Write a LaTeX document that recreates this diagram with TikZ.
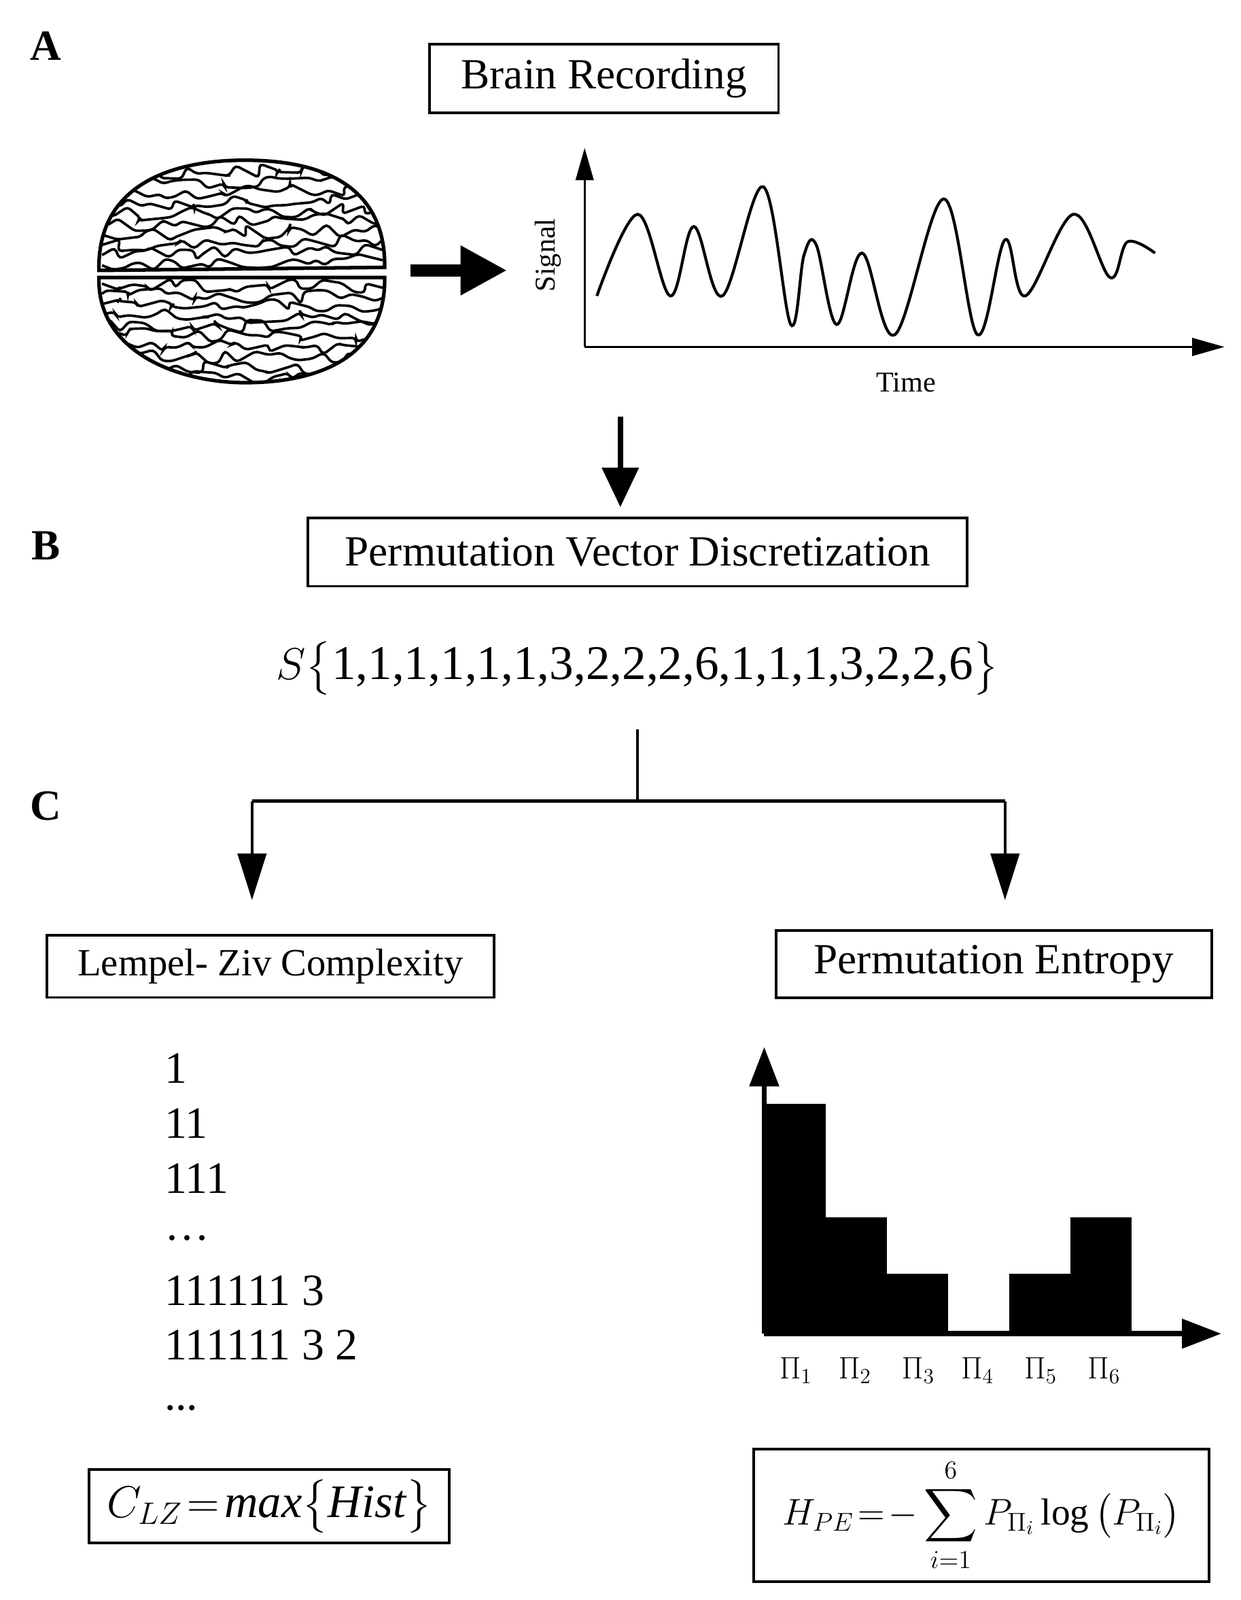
\documentclass[tikz,border=0pt]{standalone}
\usepackage{fontspec}
\setmainfont{Liberation Serif}
\usepackage{amsmath}
\usetikzlibrary{arrows.meta,decorations.pathmorphing}
\begin{document}
\begin{tikzpicture}[x=0.02cm,y=-0.02cm,
  box/.style={draw,line width=1.5pt,inner sep=0pt},
  lab/.style={font=\bfseries\fontsize{24}{28}\selectfont},
  ax/.style={line width=1pt,-{Triangle[length=18pt,width=10pt]}},
  wig/.style={line width=1.4pt,rounded corners=2pt,decorate,decoration={random steps,segment length=6pt,amplitude=4pt}}]
\useasboundingbox (0,0) rectangle (1216,1568);
\node[lab] (la) at (45,45) {A};
\node[lab] (lb) at (45,535) {B};
\node[lab] (lc) at (45,790) {C};
% Brain recording
\node[box,minimum width=342*0.02cm,minimum height=67*0.02cm,font=\fontsize{24}{28}\selectfont] (br) at (592,77) {Brain Recording};
% brain
\draw[line width=2pt] (97,265) .. controls (95,180) and (170,157) .. (240,157) .. controls (320,157) and (378,185) .. (377,262) -- cycle;
\draw[line width=2pt] (97,272) .. controls (95,345) and (175,375) .. (240,375) .. controls (320,375) and (378,345) .. (377,272) -- cycle;
\begin{scope}
\clip (97,265) .. controls (95,180) and (170,157) .. (240,157) .. controls (320,157) and (378,185) .. (377,262) -- cycle;
\foreach \i in {0,...,9}{
  \draw[wig] (100,170+\i*10) -- (375,165+\i*10);}
\end{scope}
\begin{scope}
\clip (97,272) .. controls (95,345) and (175,375) .. (240,375) .. controls (320,375) and (378,345) .. (377,272) -- cycle;
\foreach \i in {0,...,9}{
  \draw[wig] (100,278+\i*10) -- (375,282+\i*10);}
\end{scope}
\coordinate (bra) at (402,265);
\coordinate (brb) at (497,265);
\draw[line width=7pt,-{Triangle[length=26pt,width=26pt]}] (bra) -- (brb);
% signal plot
\coordinate (o) at (573,340);
\coordinate (oy) at (573,145);
\coordinate (ox) at (1200,340);
\draw[ax] (o) -- (oy);
\draw[ax] (o) -- (ox);
\node[rotate=90,font=\fontsize{16}{18}\selectfont] (sig) at (537,250) {Signal};
\node[font=\fontsize{16}{18}\selectfont] (time) at (888,375) {Time};
\draw[line width=1.6pt] plot[smooth,tension=0.6] coordinates {(585,290) (625,210) (657,290) (680,222) (708,290) (748,183) (775,318) (788,250) (800,240) (820,318) (845,248) (877,328) (925,195) (958,328) (985,235) (1005,290) (1052,210) (1088,272) (1105,237) (1132,248)};
\coordinate (d1) at (608,408);
\coordinate (d2) at (608,497);
\draw[line width=3pt,-{Triangle[length=22pt,width=20pt]}] (d1) -- (d2);
% B
\node[box,minimum width=646*0.02cm,minimum height=67*0.02cm,font=\fontsize{24}{28}\selectfont] (pv) at (625,541) {Permutation Vector Discretization};
\node[font=\fontsize{27}{30}\selectfont] (seq) at (625,655) {$S\big\{$1,1,1,1,1,1,3,2,2,2,6,1,1,1,3,2,2,6$\big\}$};
% C
\coordinate (t0) at (625,715);
\coordinate (t1) at (625,785);
\coordinate (tl) at (247,785);
\coordinate (tr) at (985,785);
\coordinate (al) at (247,882);
\coordinate (ar) at (985,882);
\draw[line width=1.6pt] (t0) -- (t1);
\draw[line width=1.6pt] (tl) -- (tr);
\draw[line width=1.6pt,-{Triangle[length=26pt,width=16pt]}] (tl) -- (al);
\draw[line width=1.6pt,-{Triangle[length=26pt,width=16pt]}] (tr) -- (ar);
\node[box,minimum width=438*0.02cm,minimum height=61*0.02cm,font=\fontsize{21.5}{24}\selectfont] (lz) at (265,947) {Lempel- Ziv Complexity};
\node[box,minimum width=427*0.02cm,minimum height=66*0.02cm,font=\fontsize{24}{28}\selectfont] (pe) at (974,945) {Permutation Entropy};
\begin{scope}[every node/.style={anchor=west,font=\fontsize{25}{28}\selectfont}]
\node (l1) at (155,1047) {1};
\node (l2) at (155,1101) {11};
\node (l3) at (155,1155) {111};
\node (l4) at (155,1213) {\dots};
\node (l5) at (155,1265) {111111 3};
\node (l6) at (155,1318) {111111 3 2};
\node (l7) at (155,1380) {...};
\end{scope}
\node[box,minimum width=353*0.02cm,minimum height=72*0.02cm,font=\fontsize{26}{30}\selectfont] (clz) at (264,1476) {$C_{LZ}\!=\!\mathit{max}\big\{\mathit{Hist}\big\}$};
% histogram
\coordinate (h0) at (749,1307);
\coordinate (hy) at (749,1026);
\coordinate (hx) at (1197,1307);
\fill (749,1082) rectangle (809,1307);
\fill (809,1193) rectangle (869,1307);
\fill (869,1248) rectangle (929,1307);
\fill (989,1248) rectangle (1049,1307);
\fill (1049,1193) rectangle (1109,1307);
\draw[line width=3pt,-{Triangle[length=22pt,width=16pt]}] (h0) -- (hy);
\draw[line width=3pt,-{Triangle[length=22pt,width=16pt]}] (h0) -- (hx);
\begin{scope}[every node/.style={font=\fontsize{17}{20}\selectfont}]
\node (p1) at (780,1343) {$\Pi_1$};
\node (p2) at (838,1343) {$\Pi_2$};
\node (p3) at (900,1343) {$\Pi_3$};
\node (p4) at (958,1343) {$\Pi_4$};
\node (p5) at (1020,1343) {$\Pi_5$};
\node (p6) at (1082,1343) {$\Pi_6$};
\end{scope}
\node[box,minimum width=446*0.02cm,minimum height=130*0.02cm,font=\fontsize{21}{25}\selectfont] (hpe) at (962,1485) {$H_{PE}\!=\!-\displaystyle\sum_{i=1}^{6} P_{\Pi_i}\log\big(P_{\Pi_i}\big)$};
\end{tikzpicture}
\end{document}
